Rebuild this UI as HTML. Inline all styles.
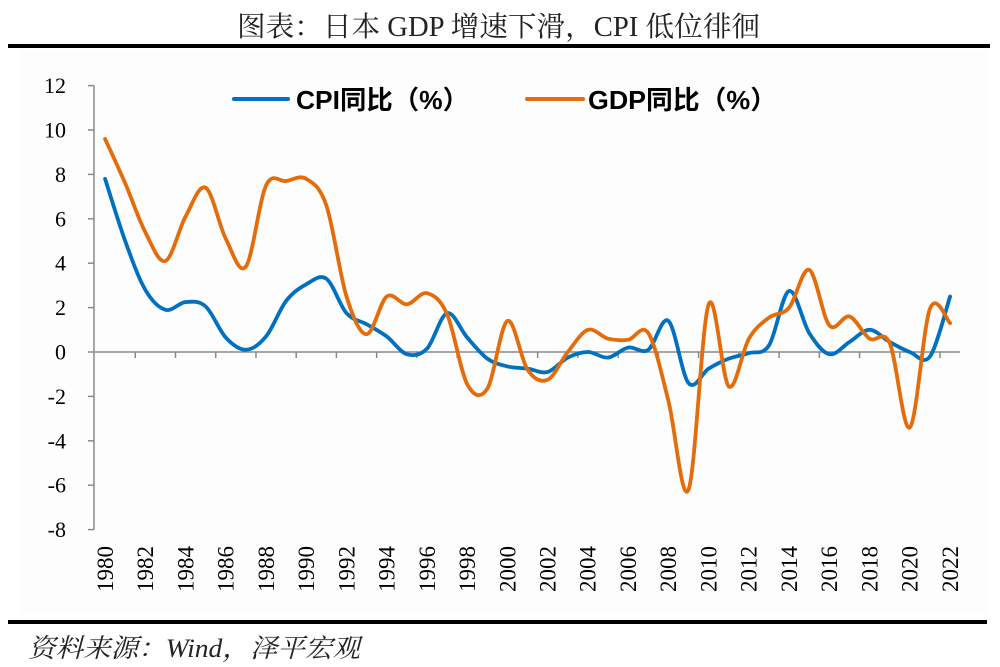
<!DOCTYPE html>
<html>
<head>
<meta charset="utf-8">
<style>
  html, body { margin: 0; padding: 0; background: #ffffff; }
  body { width: 1000px; height: 667px; overflow: hidden; }
  svg { display: block; }
</style>
</head>
<body>
<svg id="chart" width="1000" height="667" viewBox="0 0 1000 667" xmlns="http://www.w3.org/2000/svg">
  <rect x="0" y="0" width="1000" height="667" fill="#ffffff"/>
  <rect x="20" y="50" width="967" height="563" fill="#fdfdfd"/>

  <!-- Title -->
  <text x="237" y="36" font-family="'Liberation Serif','Noto Serif CJK SC',serif" font-size="28" fill="#222" textLength="523" lengthAdjust="spacingAndGlyphs">图表：日本 GDP 增速下滑，CPI 低位徘徊</text>
  <rect x="8" y="44" width="982" height="4" fill="#000"/>

  <!-- Legend -->
  <line x1="234" y1="99" x2="288" y2="99" stroke="#0070C0" stroke-width="4" stroke-linecap="round"/>
  <text x="296" y="109" font-family="'Liberation Sans','Noto Sans CJK SC',sans-serif" font-weight="bold" font-size="26" fill="#000" textLength="173" lengthAdjust="spacingAndGlyphs">CPI同比（%）</text>
  <line x1="527" y1="99" x2="583" y2="99" stroke="#E46C0A" stroke-width="4" stroke-linecap="round"/>
  <text x="588" y="109" font-family="'Liberation Sans','Noto Sans CJK SC',sans-serif" font-weight="bold" font-size="26" fill="#000" textLength="189" lengthAdjust="spacingAndGlyphs">GDP同比（%）</text>

  <!-- Y axis -->
  <g stroke="#898989" stroke-width="1.5" fill="none">
    <line x1="94" y1="85.6" x2="94" y2="529.6"/>
    <line x1="88" y1="85.6" x2="94" y2="85.6"/>
    <line x1="88" y1="130" x2="94" y2="130"/>
    <line x1="88" y1="174.4" x2="94" y2="174.4"/>
    <line x1="88" y1="218.8" x2="94" y2="218.8"/>
    <line x1="88" y1="263.2" x2="94" y2="263.2"/>
    <line x1="88" y1="307.6" x2="94" y2="307.6"/>
    <line x1="88" y1="352" x2="94" y2="352"/>
    <line x1="88" y1="396.4" x2="94" y2="396.4"/>
    <line x1="88" y1="440.8" x2="94" y2="440.8"/>
    <line x1="88" y1="485.2" x2="94" y2="485.2"/>
    <line x1="88" y1="529.6" x2="94" y2="529.6"/>
  </g>
  <g font-family="'Liberation Serif',serif" font-size="22" fill="#000" text-anchor="end">
    <text x="66" y="93.1">12</text>
    <text x="66" y="137.5">10</text>
    <text x="66" y="181.9">8</text>
    <text x="66" y="226.3">6</text>
    <text x="66" y="270.7">4</text>
    <text x="66" y="315.1">2</text>
    <text x="66" y="359.5">0</text>
    <text x="66" y="403.9">-2</text>
    <text x="66" y="448.3">-4</text>
    <text x="66" y="492.7">-6</text>
    <text x="66" y="537.1">-8</text>
  </g>

  <!-- X axis -->
  <g id="xaxis" stroke="#898989" stroke-width="1.5" fill="none">
    <line x1="94" y1="352" x2="960" y2="352"/>
  </g>
  <g id="xlabels" font-family="'Liberation Serif',serif" font-size="23" fill="#000" text-anchor="end"></g>

  <!-- Series -->
  <path id="cpi" d="" fill="none" stroke="#0070C0" stroke-width="3.8" stroke-linejoin="round" stroke-linecap="round"/>
  <path id="gdp" d="" fill="none" stroke="#E46C0A" stroke-width="3.8" stroke-linejoin="round" stroke-linecap="round"/>

  <!-- Footer -->
  <rect x="8" y="620" width="979" height="4" fill="#000"/>
  <text x="28" y="657" font-family="'Liberation Serif','Noto Serif CJK SC',serif" font-style="italic" font-size="26" fill="#222" textLength="332" lengthAdjust="spacingAndGlyphs">资料来源：Wind，泽平宏观</text>
</svg>
<script>
(function(){
  var NS = "http://www.w3.org/2000/svg";
  var step = 20.12;
  function X(i){ return 95 + (i + 0.5) * step; }
  function Y(v){ return 352 - v * 22.2; }

  var cpi = [7.8,5.0,2.8,1.9,2.25,2.05,0.65,0.1,0.7,2.3,3.05,3.3,1.75,1.25,0.7,-0.1,0.15,1.75,0.65,-0.3,-0.65,-0.75,-0.9,-0.25,0.0,-0.25,0.2,0.1,1.4,-1.4,-0.75,-0.3,-0.05,0.3,2.75,0.85,-0.1,0.45,1.0,0.45,0.0,-0.2,2.5];
  var gdp = [9.6,7.6,5.4,4.1,6.1,7.4,5.1,3.85,7.5,7.7,7.8,6.6,2.5,0.8,2.5,2.15,2.65,1.7,-1.45,-1.65,1.4,-0.8,-1.25,0.0,1.0,0.6,0.55,0.85,-2.2,-6.2,2.15,-1.55,0.6,1.55,2.0,3.7,1.2,1.6,0.6,0.4,-3.4,1.95,1.3];

  function smooth(vals){
    var p = vals.map(function(v,i){ return [X(i), Y(v)]; });
    var d = "M" + p[0][0].toFixed(2) + "," + p[0][1].toFixed(2);
    for (var i = 0; i < p.length - 1; i++){
      var p0 = p[i-1] || p[i], p1 = p[i], p2 = p[i+1], p3 = p[i+2] || p[i+1];
      var c1x = p1[0] + (p2[0]-p0[0])/6, c1y = p1[1] + (p2[1]-p0[1])/6;
      var c2x = p2[0] - (p3[0]-p1[0])/6, c2y = p2[1] - (p3[1]-p1[1])/6;
      d += " C" + c1x.toFixed(2) + "," + c1y.toFixed(2) + " " + c2x.toFixed(2) + "," + c2y.toFixed(2) + " " + p2[0].toFixed(2) + "," + p2[1].toFixed(2);
    }
    return d;
  }
  document.getElementById("cpi").setAttribute("d", smooth(cpi));
  document.getElementById("gdp").setAttribute("d", smooth(gdp));

  var ax = document.getElementById("xaxis");
  for (var k = 1; k <= 21; k++){
    var tx = 95 + k * 2 * step;
    var l = document.createElementNS(NS, "line");
    l.setAttribute("x1", tx); l.setAttribute("x2", tx);
    l.setAttribute("y1", 352); l.setAttribute("y2", 358);
    ax.appendChild(l);
  }
  var lg = document.getElementById("xlabels");
  for (var yr = 1980; yr <= 2022; yr += 2){
    var cx = X(yr - 1980);
    var bx = cx + 7.8, by = 546;
    var t = document.createElementNS(NS, "text");
    t.setAttribute("x", bx.toFixed(2));
    t.setAttribute("y", by);
    t.setAttribute("transform", "rotate(-90 " + bx.toFixed(2) + " " + by + ")");
    t.textContent = String(yr);
    lg.appendChild(t);
  }
})();
</script>
</body>
</html>
